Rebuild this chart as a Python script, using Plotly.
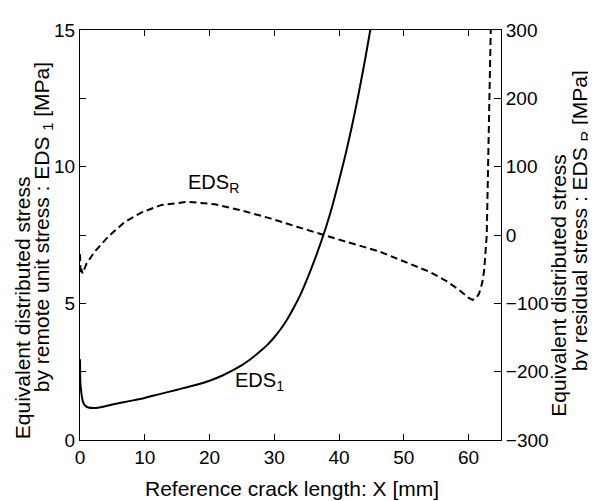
import plotly.graph_objects as go

# ---- data ----
crack_x_eds1 = [0, 0.03, 0.08, 0.15, 0.25, 0.4, 0.6, 0.9, 1.3, 2, 3, 5, 8, 10, 12, 15, 18, 20, 22, 25,
                26, 27, 28, 29, 30, 31, 32, 33, 34, 35, 36, 37, 38, 39, 40, 41, 42, 43, 44, 45, 46]
eds1_values = [2.95, 2.3, 2.0, 1.85, 1.65, 1.45, 1.32, 1.24, 1.19, 1.17, 1.19, 1.3, 1.44, 1.54, 1.66,
               1.84, 2.02, 2.17, 2.36, 2.74, 2.9, 3.08, 3.28, 3.5, 3.76, 4.06, 4.42, 4.84, 5.3, 5.85,
               6.45, 7.1, 7.8, 8.6, 9.5, 10.45, 11.5, 12.65, 13.9, 15.25, 16.7]

crack_x_edsr = [0, 0.05, 0.1, 0.2, 0.4, 1.0, 2.3, 4.4, 6.9, 9.5, 12.6, 16.7, 20.8, 24.9, 29.5, 33.5,
                37.6, 41.5, 46.2, 49.3, 51.4, 54, 56.5, 58.5, 60.0, 60.6, 61.2, 61.6, 62.1, 62.4, 62.8,
                63.0, 63.2, 63.4, 63.5]
edsr_values = [-28, -45, -57, -50, -56, -42, -24, -2, 19, 33, 44, 48.6, 45, 36, 24, 12, 0, -11, -24,
               -36, -43, -54, -67, -80, -92, -95, -92, -86, -70, -52, 0, 100, 180, 300, 340]

x_ticks = [0, 10, 20, 30, 40, 50, 60]
y1_ticks = [0, 5, 10, 15]
y2_ticks = [-300, -200, -100, 0, 100, 200, 300]

x_title = "Reference crack length: X [mm]"
y1_title_lines = ["Equivalent distributed stress", "by remote unit stress : EDS <sub>1</sub> [MPa]"]
y2_title_lines = ["Equivalent distributed stress", "by residual stress : EDS <sub>R</sub> [MPa]"]

# ---- layout geometry (page pixels; the page body adds an 8px offset) ----
OFF = 8
W, H = 596 - OFF, 501 - OFF
L, R, T, B = 80, 501, 20, 440
FONT = "Liberation Sans, Arial, sans-serif"


def px_x(p):
    return (p - L) / (R - L)


def px_y(p):
    return (B - p) / (B - T)


fig = go.Figure()
fig.add_trace(go.Scatter(x=crack_x_eds1, y=eds1_values, mode="lines",
                         line=dict(color="black", width=2, shape="spline", smoothing=0.6),
                         showlegend=False))
fig.add_trace(go.Scatter(x=crack_x_edsr, y=edsr_values, mode="lines", yaxis="y2",
                         line=dict(color="black", width=2, dash="7px,4px"), showlegend=False))

fig.update_layout(
    width=W, height=H,
    margin=dict(l=L - OFF, r=W - (R - OFF), t=T - OFF, b=H - (B - OFF)),
    paper_bgcolor="white", plot_bgcolor="white",
    font=dict(family=FONT, size=19, color="black"),
    xaxis=dict(range=[0, 65], tickvals=x_ticks, ticks="inside", ticklen=6, tickcolor="black",
               showline=True, linecolor="black", linewidth=1, mirror="ticks", showgrid=False,
               zeroline=False, tickfont=dict(size=19)),
    yaxis=dict(range=[0, 15], tickvals=y1_ticks, ticks="inside", ticklen=6,
               tickcolor="black", showline=True, linecolor="black", linewidth=1, showgrid=False,
               zeroline=False, tickfont=dict(size=19),
               minor=dict(dtick=2.5, ticks="inside", ticklen=6, tickcolor="black", showgrid=False)),
    yaxis2=dict(range=[-300, 300], tickvals=y2_ticks, overlaying="y", side="right", ticks="inside",
                ticklen=7, tickcolor="black", showline=True, linecolor="black", linewidth=1,
                showgrid=False, zeroline=False, tickfont=dict(size=19)),
)

ann = []
ann.append(dict(text=x_title, x=px_x(292), y=px_y(490), xref="paper", yref="paper",
                showarrow=False, xanchor="center", yanchor="middle", font=dict(size=21)))
ann.append(dict(text=y1_title_lines[0], x=px_x(22), y=px_y(305), xref="paper", yref="paper",
                showarrow=False, textangle=-90, xanchor="center", yanchor="middle", font=dict(size=21)))
ann.append(dict(text=y1_title_lines[1], x=px_x(43), y=px_y(222), xref="paper", yref="paper",
                showarrow=False, textangle=-90, xanchor="center", yanchor="middle", font=dict(size=21)))
ann.append(dict(text=y2_title_lines[0], x=px_x(559), y=px_y(282), xref="paper", yref="paper",
                showarrow=False, textangle=-90, xanchor="center", yanchor="middle", font=dict(size=21)))
ann.append(dict(text=y2_title_lines[1], x=px_x(581), y=px_y(216), xref="paper", yref="paper",
                showarrow=False, textangle=-90, xanchor="center", yanchor="middle", font=dict(size=21)))
ann.append(dict(text="EDS<sub>R</sub>", x=16.4, y=9.4, xref="x", yref="y", showarrow=False,
                xanchor="left", yanchor="middle", font=dict(size=20)))
ann.append(dict(text="EDS<sub>1</sub>", x=23.6, y=2.15, xref="x", yref="y", showarrow=False,
                xanchor="left", yanchor="middle", font=dict(size=20)))
fig.update_layout(annotations=ann)

fig.write_html("out.html")
